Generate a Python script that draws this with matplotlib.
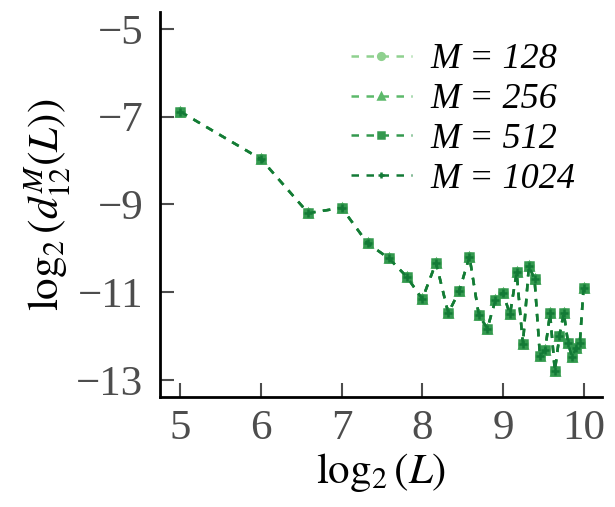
import numpy as np
import matplotlib
matplotlib.use("Agg")
import matplotlib.pyplot as plt

plt.rcParams["font.family"] = ["Liberation Serif", "DejaVu Serif"]
plt.rcParams["mathtext.fontset"] = "stix"

# L = 32, 64, ..., 1024
L_values = np.arange(32, 1025, 32)
log_d = [
    -6.89, -7.97, -9.20, -9.08, -9.89, -10.23, -10.65, -11.16,
    -10.33, -11.48, -10.97, -10.19, -11.52, -11.83, -11.18, -11.01,
    -11.51, -10.55, -12.19, -10.40, -10.71, -12.46, -12.32, -11.48,
    -12.80, -12.00, -11.47, -12.15, -12.49, -12.27, -12.15, -10.91,
]

M_labels = ["128", "256", "512", "1024"]
colors = ["#8fd18f", "#5cb96a", "#34994f", "#137a36"]
markers = ["o", "^", "s", "+"]

x = np.log2(L_values)

fig = plt.figure(figsize=(6.15, 5.07), dpi=100)
ax = fig.add_axes([0.260, 0.217, 0.719, 0.760])

for m, c, mk in zip(M_labels, colors, markers):
    ax.plot(x, log_d, linestyle="--", color=c, marker=mk, markersize=6,
            markeredgewidth=1.8, linewidth=1.8, dashes=(3, 3),
            label="M = " + m)

ax.set_xlim(4.745, 10.23)
ax.set_ylim(-13.39, -4.61)
ax.set_xticks([5, 6, 7, 8, 9, 10])
ax.set_yticks([-5, -7, -9, -11, -13])
ax.set_yticklabels(["\u22125", "\u22127", "\u22129", "\u221211", "\u221213"])

for s in ["top", "right"]:
    ax.spines[s].set_visible(False)
for s in ["left", "bottom"]:
    ax.spines[s].set_linewidth(2)

ax.tick_params(direction="in", length=10, width=1.5, color="#4d4d4d",
               labelcolor="#4d4d4d", labelsize=31)
ax.tick_params(axis="x", pad=9)
ax.tick_params(axis="y", pad=12)

ax.set_xlabel(r"$\log_2(L)$", fontsize=31, labelpad=2)
ax.set_ylabel(r"$\log_2(d_{12}^{M}(L))$", fontsize=31, labelpad=2)

leg = ax.legend(loc="upper right", frameon=False,
                prop={"style": "italic", "size": 26},
                handlelength=1.7, handletextpad=0.5, labelspacing=0.18,
                borderaxespad=0.1, bbox_to_anchor=(0.98, 0.965),
                markerscale=0.8)

fig.savefig("out.png", dpi=100)
